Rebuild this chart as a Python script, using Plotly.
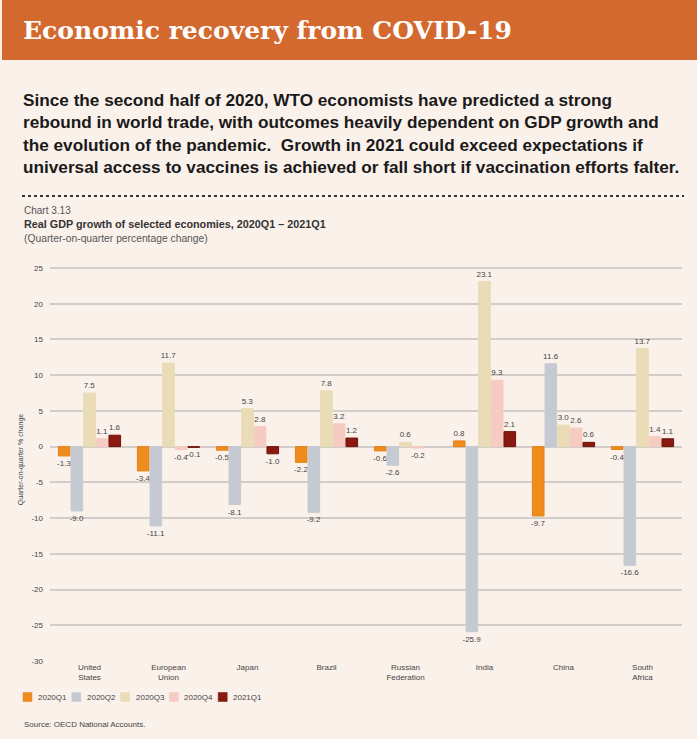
import plotly.graph_objects as go

W, H = 697, 739
ML, MR, MT, MB = 50, 15, 258, 78

categories = ["United<br>States", "European<br>Union", "Japan", "Brazil",
              "Russian<br>Federation", "India", "China", "South<br>Africa"]
series_names = ["2020Q1", "2020Q2", "2020Q3", "2020Q4", "2021Q1"]
q1_2020 = [-1.3, -3.4, -0.5, -2.2, -0.6, 0.8, -9.7, -0.4]
q2_2020 = [-9.0, -11.1, -8.1, -9.2, -2.6, -25.9, 11.6, -16.6]
q3_2020 = [7.5, 11.7, 5.3, 7.8, 0.6, 23.1, 3.0, 13.7]
q4_2020 = [1.1, -0.4, 2.8, 3.2, -0.2, 9.3, 2.6, 1.4]
q1_2021 = [1.6, -0.1, -1.0, 1.2, None, 2.1, 0.6, 1.1]
y_ticks = [25, 20, 15, 10, 5, 0, -5, -10, -15, -20, -25, -30]

series_values = [q1_2020, q2_2020, q3_2020, q4_2020, q1_2021]
colors = ["#EE8C1E", "#C5CAD2", "#E9DCB6", "#F6CBC1", "#8A1A10"]
outlines = ["#E8821A", "#C5CAD2", "#E9DCB6", "#F6CBC1", "#6E120A"]

PW = W - ML - MR
PH = H - MT - MB


def px(x):
    return (x - ML) / PW


def py(y):
    return (H - MB - y) / PH


fig = go.Figure()
for name, vals, c, oc in zip(series_names, series_values, colors, outlines):
    fig.add_trace(go.Bar(
        name=name, x=categories, y=vals,
        marker=dict(color=c, line=dict(color=oc, width=1)),
        text=[("" if v is None else f"{v:.1f}") for v in vals],
        textposition="outside", constraintext="none",
        textfont=dict(size=8, color="#444444", family="Liberation Sans"),
        cliponaxis=False, showlegend=False, hoverinfo="skip",
    ))

bg = "#FBF1EB"
font_main = "Liberation Sans"

shapes = [
    dict(type="rect", xref="paper", yref="paper", x0=px(2), x1=px(697),
         y0=py(0), y1=py(60), fillcolor="#D4692F", line=dict(width=0), layer="below"),
    dict(type="line", xref="paper", yref="paper", x0=px(22), x1=px(684),
         y0=py(196), y1=py(196), line=dict(color="#333333", width=2, dash="dot")),
]
annotations = [
    dict(text="<b>Economic recovery from COVID-19</b>", xref="paper", yref="paper",
         x=px(21), y=py(31), xanchor="left", yanchor="middle", showarrow=False,
         font=dict(family="DejaVu Serif", size=25, color="white")),
    dict(text="<b>Since the second half of 2020, WTO economists have predicted a strong<br>"
              "rebound in world trade, with outcomes heavily dependent on GDP growth and<br>"
              "the evolution of the pandemic.  Growth in 2021 could exceed expectations if<br>"
              "universal access to vaccines is achieved or fall short if vaccination efforts falter.</b>",
         xref="paper", yref="paper", x=px(21), y=py(88), xanchor="left", yanchor="top",
         align="left", showarrow=False,
         font=dict(family=font_main, size=17.2, color="#1a1a1a")),
    dict(text="Chart 3.13", xref="paper", yref="paper", x=px(22), y=py(210),
         xanchor="left", yanchor="middle", showarrow=False,
         font=dict(family=font_main, size=10, color="#555555")),
    dict(text="<b>Real GDP growth of selected economies, 2020Q1 – 2021Q1</b>",
         xref="paper", yref="paper", x=px(22), y=py(224),
         xanchor="left", yanchor="middle", showarrow=False,
         font=dict(family=font_main, size=10.8, color="#333333")),
    dict(text="(Quarter-on-quarter percentage change)", xref="paper", yref="paper",
         x=px(22), y=py(238), xanchor="left", yanchor="middle", showarrow=False,
         font=dict(family=font_main, size=10.3, color="#555555")),
    dict(text="Source: OECD National Accounts.", xref="paper", yref="paper",
         x=px(22), y=py(724), xanchor="left", yanchor="middle", showarrow=False,
         font=dict(family=font_main, size=8, color="#444444")),
]

# manual legend
for i, (name, c, oc) in enumerate(zip(series_names, colors, outlines)):
    x0 = 23 + i * 48.8
    shapes.append(dict(type="rect", xref="paper", yref="paper", x0=px(x0), x1=px(x0 + 9),
                       y0=py(701.5), y1=py(692.5), fillcolor=c, line=dict(color=oc, width=0.5)))
    annotations.append(dict(text=name, xref="paper", yref="paper", x=px(x0 + 13), y=py(697),
                            xanchor="left", yanchor="middle", showarrow=False,
                            font=dict(family=font_main, size=8, color="#444444")))

fig.update_layout(
    width=W, height=H,
    margin=dict(l=ML, r=MR, t=MT, b=MB),
    paper_bgcolor=bg, plot_bgcolor=bg,
    barmode="group", bargap=0.2, bargroupgap=0.08,
    font=dict(family=font_main, color="#444444"),
    showlegend=False, hovermode=False,
    xaxis=dict(tickfont=dict(size=8, color="#444444"), showline=False, ticks="",
               showgrid=False, fixedrange=True),
    yaxis=dict(range=[-30, 26.4], tickvals=y_ticks, ticktext=[str(t) for t in y_ticks],
               tickfont=dict(size=8, color="#444444"), showgrid=True,
               gridcolor="#D2CDCA", gridwidth=1.5, zeroline=True,
               zerolinecolor="#D2CDCA", zerolinewidth=1.5, ticks="", ticklen=0,
               ticklabelstandoff=6, fixedrange=True,
               title=dict(text="Quarter-on-quarter % change",
                          font=dict(size=7, color="#444444"), standoff=6)),
    shapes=shapes,
    annotations=annotations,
)

fig.write_html("out.html", config={"displayModeBar": False},
               post_script="document.body.style.margin='0';")
